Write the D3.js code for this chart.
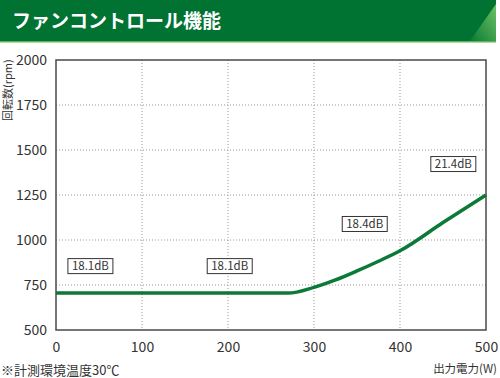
<!DOCTYPE html>
<html>
<head>
<meta charset="utf-8">
<script src="https://cdn.jsdelivr.net/npm/d3@7"></script>
<style>
  body { margin: 0; background: #fff; }
  text { font-family: "Noto Sans CJK JP", "Noto Sans", sans-serif; }
</style>
</head>
<body>
<div id="chart"></div>
<script>
const title = 'ファンコントロール機能';
const xTicks = [0, 100, 200, 300, 400, 500];
const yTicks = [500, 750, 1000, 1250, 1500, 1750, 2000];
// power (W) vs fan speed (rpm)
const watts = [0, 270, 300, 325, 350, 375, 400, 450, 500];
const rpm = [705, 705, 737, 778, 828, 882, 940, 1097, 1250];
const noiseLabels = ['18.1dB', '18.1dB', '18.4dB', '21.4dB'];
const noiseX = [40, 202, 359, 462];
const noiseY = [855, 855, 1089, 1422];

const W = 500, H = 378;
const margin = { top: 60, right: 14, bottom: 48, left: 56 };
const width = W - margin.left - margin.right;
const height = H - margin.top - margin.bottom;

const svg = d3.select('#chart').append('svg')
    .attr('width', W).attr('height', H);

// header bar
const defs = svg.append('defs');
const grad = defs.append('linearGradient')
    .attr('id', 'hdr-grad')
    .attr('x1', '0%').attr('y1', '100%').attr('x2', '100%').attr('y2', '0%');
grad.append('stop').attr('offset', '0%').attr('stop-color', '#0a7a32');
grad.append('stop').attr('offset', '100%').attr('stop-color', '#6cc266');

svg.append('rect').attr('x', 0).attr('y', 0).attr('width', 496).attr('height', 41)
    .attr('fill', '#007232');
svg.append('path')
    .attr('d', 'M470,41 L496,4 L496,41 Z')
    .attr('fill', 'url(#hdr-grad)');
svg.append('rect').attr('x', 0).attr('y', 41).attr('width', 496).attr('height', 1.5)
    .attr('fill', '#5db55a');
svg.append('text')
    .attr('x', 12).attr('y', 28)
    .attr('fill', '#fff')
    .style('font-size', '19px').style('font-weight', 'bold')
    .text(title);

const g = svg.append('g')
    .attr('transform', `translate(${margin.left},${margin.top})`);

const x = d3.scaleLinear().domain([0, 500]).range([0, width]);
const y = d3.scaleLinear().domain([500, 2000]).range([height, 0]);

// grid
g.append('g').selectAll('line')
    .data(xTicks.slice(1, -1)).join('line')
    .attr('x1', d => x(d)).attr('x2', d => x(d))
    .attr('y1', 0).attr('y2', height)
    .attr('stroke', '#999').attr('stroke-width', 1).attr('stroke-dasharray', '1,2');
g.append('g').selectAll('line')
    .data(yTicks.slice(1, -1)).join('line')
    .attr('x1', 0).attr('x2', width)
    .attr('y1', d => y(d)).attr('y2', d => y(d))
    .attr('stroke', '#999').attr('stroke-width', 1).attr('stroke-dasharray', '1,2');

// frame
g.append('rect').attr('x', 0).attr('y', 0).attr('width', width).attr('height', height)
    .attr('fill', 'none').attr('stroke', '#4a4a4a').attr('stroke-width', 1.5);

// axes
const xAxis = g.append('g').attr('transform', `translate(0,${height})`)
    .call(d3.axisBottom(x).tickValues(xTicks).tickFormat(d3.format('d')).tickSize(0).tickPadding(12));
const yAxis = g.append('g')
    .call(d3.axisLeft(y).tickValues(yTicks).tickFormat(d3.format('d')).tickSize(0).tickPadding(9));
[xAxis, yAxis].forEach(a => {
    a.select('.domain').remove();
    a.selectAll('text').style('font-size', '14px').style('fill', '#333')
        .style('font-family', '"Noto Sans CJK JP", sans-serif');
});

// line
const pts = watts.map((w, i) => [w, rpm[i]]);
g.append('path')
    .datum(pts)
    .attr('fill', 'none')
    .attr('stroke', '#0b7a36')
    .attr('stroke-width', 3.5)
    .attr('d', d3.line().x(d => x(d[0])).y(d => y(d[1])).curve(d3.curveMonotoneX));

// noise labels
noiseLabels.forEach((t, i) => {
    const lg = g.append('g').attr('transform', `translate(${x(noiseX[i])},${y(noiseY[i])})`);
    lg.append('rect').attr('x', -22.5).attr('y', -7.5).attr('width', 45).attr('height', 15)
        .attr('fill', '#fff').attr('stroke', '#333').attr('stroke-width', 1);
    lg.append('text').attr('text-anchor', 'middle').attr('dy', '0.36em')
        .style('font-size', '11.5px').style('fill', '#333').text(t);
});

// axis titles
svg.append('text')
    .attr('transform', 'translate(12,121) rotate(-90)')
    .style('font-size', '11px').style('fill', '#333')
    .text('回転数(rpm)');
svg.append('text')
    .attr('x', 497).attr('y', 373).attr('text-anchor', 'end')
    .style('font-size', '11.5px').style('fill', '#333')
    .text('出力電力(W)');
svg.append('text')
    .attr('x', 1).attr('y', 375)
    .style('font-size', '13px').style('fill', '#333')
    .text('※計測環境温度30℃');
</script>
</body>
</html>
